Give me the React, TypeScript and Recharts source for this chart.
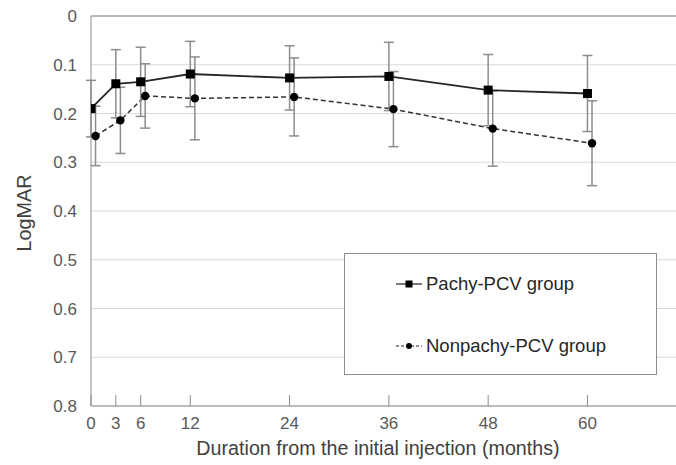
import {
  CartesianGrid,
  ErrorBar,
  Label,
  Line,
  LineChart,
  ReferenceLine,
  XAxis,
  YAxis,
} from "recharts";

const months = [0, 3, 6, 12, 24, 36, 48, 60];
const pachyMean = [0.19, 0.139, 0.135, 0.119, 0.127, 0.124, 0.152, 0.159];
const pachySD = [0.058, 0.07, 0.071, 0.067, 0.066, 0.07, 0.073, 0.078];
const nonpachyMean = [0.246, 0.214, 0.164, 0.169, 0.166, 0.191, 0.231, 0.261];
const nonpachySD = [0.061, 0.068, 0.066, 0.085, 0.08, 0.077, 0.077, 0.087];
const yTicks = [0, 0.1, 0.2, 0.3, 0.4, 0.5, 0.6, 0.7, 0.8];

// second group is drawn a little to the right, like the original figure
const NONPACHY_SHIFT = 0.55;

const pachyData = months.map((m, i) => ({ x: m, y: pachyMean[i], sd: pachySD[i] }));
const nonpachyData = months.map((m, i) => ({
  x: m + NONPACHY_SHIFT,
  y: nonpachyMean[i],
  sd: nonpachySD[i],
}));

const FONT = "'Liberation Sans', Arial, sans-serif";
const AXIS = "#8c8c8c";
const TEXT = "#595959";

function XTick(props: any) {
  const { x, y, payload } = props;
  return (
    <g>
      <line x1={x} x2={x} y1={y} y2={y - 11} stroke={AXIS} strokeWidth={1} />
      <text x={x} y={y + 23} textAnchor="middle" fill={TEXT} fontSize={17} fontFamily={FONT}>
        {payload.value}
      </text>
    </g>
  );
}

function SquareDot(props: any) {
  const { cx, cy, index } = props;
  return <rect key={`sq-${index}`} x={cx - 4.5} y={cy - 4.5} width={9} height={9} fill="#000" />;
}

function LegendRow({ dashed, square, label }: { dashed?: boolean; square?: boolean; label: string }) {
  return (
    <div style={{ display: "flex", alignItems: "center", height: 22 }}>
      <svg width={28} height={12} style={{ marginRight: 2 }}>
        <line
          x1={0}
          x2={26}
          y1={6}
          y2={6}
          stroke="#222"
          strokeWidth={1.2}
          strokeDasharray={dashed ? "3 2" : undefined}
        />
        {square ? (
          <rect x={9.5} y={2.5} width={7} height={7} fill="#000" />
        ) : (
          <circle cx={13} cy={6} r={3} fill="#000" />
        )}
      </svg>
      <span>{label}</span>
    </div>
  );
}

export default function App() {
  return (
    <div style={{ position: "absolute", left: 0, top: 0, width: 676, height: 465, background: "#fff" }}>
      <LineChart width={676} height={465} margin={{ top: 16, right: 0, bottom: 0, left: 0 }}>
        <CartesianGrid vertical={false} stroke="#d9d9d9" />
        <XAxis
          type="number"
          dataKey="x"
          domain={[0, 70.7]}
          ticks={months}
          allowDataOverflow
          height={59}
          tickLine={false}
          tickSize={0}
          tickMargin={0}
          stroke={AXIS}
          tick={<XTick />}
        >
          <Label
            content={() => (
              <text x={378} y={448} textAnchor="middle" dominantBaseline="central" fill="#404040" fontSize={19.7} fontFamily={FONT}>
                Duration from the initial injection (months)
              </text>
            )}
          />
        </XAxis>
        <YAxis
          type="number"
          reversed
          domain={[0, 0.8]}
          ticks={yTicks}
          width={91}
          tickLine={false}
          tickSize={0}
          tickMargin={14}
          stroke={AXIS}
          tick={{ fill: TEXT, fontSize: 17, fontFamily: FONT }}
          tickFormatter={(v: number) => (v === 0 ? "0" : v.toFixed(1))}
        >
          <Label
            content={() => (
              <text
                x={24}
                y={213}
                transform="rotate(-90 24 213)"
                textAnchor="middle"
                dominantBaseline="central"
                fill="#404040"
                fontSize={19.8}
                fontFamily={FONT}
              >
                LogMAR
              </text>
            )}
          />
        </YAxis>
        <ReferenceLine y={0} stroke="#a6a6a6" strokeWidth={1.5} />
        <Line
          data={nonpachyData}
          dataKey="y"
          stroke="#333"
          strokeWidth={1.5}
          strokeDasharray="5 3"
          dot={{ r: 4.2, fill: "#000", stroke: "#000", strokeWidth: 0 }}
          isAnimationActive={false}
        >
          <ErrorBar dataKey="sd" direction="y" width={5} stroke="#8c8c8c" strokeWidth={1.5} isAnimationActive={false} />
        </Line>
        <Line
          data={pachyData}
          dataKey="y"
          stroke="#262626"
          strokeWidth={1.8}
          dot={<SquareDot />}
          isAnimationActive={false}
        >
          <ErrorBar dataKey="sd" direction="y" width={5} stroke="#8c8c8c" strokeWidth={1.5} isAnimationActive={false} />
        </Line>
      </LineChart>
      <div
        style={{
          position: "absolute",
          left: 344,
          top: 253,
          width: 313,
          height: 122,
          border: "1.5px solid #8c8c8c",
          boxSizing: "border-box",
          background: "#fff",
          fontFamily: FONT,
          fontSize: 18.5,
          color: "#262626",
          paddingLeft: 51,
          paddingTop: 19,
        }}
      >
        <LegendRow square label="Pachy-PCV group" />
        <div style={{ height: 40 }} />
        <LegendRow dashed label="Nonpachy-PCV group" />
      </div>
    </div>
  );
}
